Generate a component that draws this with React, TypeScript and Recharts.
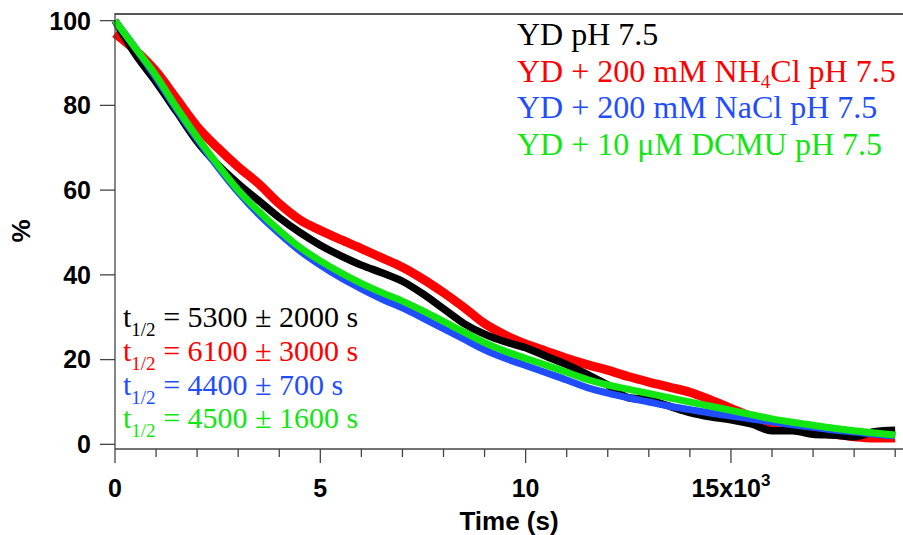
import { LineChart, Line, XAxis, YAxis, Label } from "recharts";

// time points (s)
const timeS = [
  0, 500, 1000, 1500, 2000, 2500, 3000, 3500, 4000, 4500, 5000, 5500, 6000, 6500, 7000, 7500, 8000,
  8500, 9000, 9500, 10000, 10500, 11000, 11500, 12000, 12500, 13000, 13500, 14000, 14500, 15000,
  15500, 16000, 16500, 17000, 17500, 18000, 18500, 19000,
];

// YD pH 7.5 (black)
const ydValues = [
  100, 92, 85.5, 78.5, 71.5, 66, 61.5, 57.5, 53.5, 50, 47, 44.5, 42.3, 40.5, 38.5, 35.5, 32, 28.5,
  26, 24.2, 22.8, 20.8, 18.8, 16.5, 14, 11, 10.5, 9, 7.5, 6.5, 5.8, 4.8, 3.2, 3.2, 2.4, 2.2, 1.8, 3,
  3.3,
];
// YD + 200 mM NH4Cl (red)
const nh4clValues = [
  97, 93, 88, 81.5, 75, 70, 65.5, 61.5, 56.8, 53, 50.5, 48.3, 46.2, 44, 41.8, 39, 35.8, 32.3, 28.5,
  25.8, 23.7, 22, 20.3, 18.8, 17.5, 16, 14.7, 13.5, 12.3, 10.5, 8.5, 6.5, 4.8, 3.8, 3, 2.4, 1.8, 1.5,
  1.5,
];
// YD + 200 mM NaCl (blue)
const naclValues = [
  100, 93.5, 86.5, 79, 72, 65.5, 59.5, 54.3, 49.8, 45.7, 42.3, 39.3, 36.7, 34.3, 32.2, 29.8, 27.3,
  24.8, 22.3, 20.3, 18.6, 16.9, 15.2, 13.4, 12.1, 11, 10, 9, 8.2, 7.4, 6.7, 6, 5.3, 4.6, 4, 3.4, 2.9,
  2.4, 2,
];
// YD + 10 uM DCMU (green)
const dcmuValues = [
  100, 93.5, 87, 79.5, 72.5, 66, 60, 55, 50.5, 46.5, 43.3, 40.5, 38, 35.8, 33.8, 31.5, 29, 26.5, 24,
  22, 20.3, 18.7, 17, 15.3, 14, 13, 12, 11, 10, 9, 8, 7, 6, 5.2, 4.5, 3.8, 3.2, 2.7, 2.2,
];

const xTicks = [
  0, 1000, 2000, 3000, 4000, 5000, 6000, 7000, 8000, 9000, 10000, 11000, 12000, 13000, 14000, 15000,
  16000, 17000, 18000, 19000,
];
const majorLabels: Record<number, string> = { 0: "0", 5000: "5", 10000: "10", 15000: "15x10" };
const yTicks = [0, 20, 40, 60, 80, 100];

const BLACK = "#000000";
const RED = "#ff0000";
const BLUE = "#1f4dff";
const GREEN = "#12e612";
const AXIS = "#444444";
const SANS = "'Liberation Sans', Arial, Helvetica, sans-serif";
const SERIF = "'Liberation Serif', 'Times New Roman', Times, serif";

const data = timeS.map((t, i) => ({
  t,
  yd: ydValues[i],
  nh4cl: nh4clValues[i],
  nacl: naclValues[i],
  dcmu: dcmuValues[i],
}));

function TimeTick(props: any) {
  const { x, y, payload } = props;
  const v = payload.value as number;
  const label = majorLabels[v];
  const major = label !== undefined;
  return (
    <g>
      <line x1={x} x2={x} y1={y} y2={y + (major ? 14 : 8)} stroke={AXIS} strokeWidth={1.3} />
      {major && (
        <text
          x={x}
          y={y + 48}
          textAnchor="middle"
          fontFamily={SANS}
          fontWeight="bold"
          fontSize={25}
          fill="#000"
        >
          {label}
          {v === 15000 && (
            <tspan dy={-11} fontSize={17}>
              3
            </tspan>
          )}
        </text>
      )}
    </g>
  );
}

const halfLives = [
  { text: " = 5300 ± 2000 s", color: BLACK },
  { text: " = 6100 ± 3000 s", color: RED },
  { text: " = 4400 ± 700 s", color: BLUE },
  { text: " = 4500 ± 1600 s", color: GREEN },
];

export default function App() {
  return (
    <div style={{ position: "relative", width: 903, height: 535, background: "#fff" }}>
      <style>{"body{margin:0}"}</style>
      <LineChart width={903} height={535} data={data} margin={{ top: 13, right: 0, bottom: 0, left: 0 }}>
        <XAxis
          dataKey="t"
          type="number"
          domain={[0, 19190]}
          ticks={xTicks}
          interval={0}
          height={86}
          tickSize={0}
          tickMargin={0}
          tickLine={false}
          tick={<TimeTick />}
          axisLine={{ stroke: AXIS, strokeWidth: 1.3 }}
        >
          <Label
            content={(p: any) => (
              <text
                x={p.viewBox.x + p.viewBox.width / 2}
                y={p.viewBox.y + 81}
                textAnchor="middle"
                fontFamily={SANS}
                fontWeight="bold"
                fontSize={26}
                fill="#000"
              >
                Time (s)
              </text>
            )}
          />
        </XAxis>
        <YAxis
          type="number"
          domain={[-1.1, 101.8]}
          allowDataOverflow
          ticks={yTicks}
          width={115}
          tickSize={15}
          tickMargin={9}
          tickLine={{ stroke: AXIS, strokeWidth: 1.3 }}
          axisLine={{ stroke: AXIS, strokeWidth: 1.3 }}
          tick={{ fontFamily: SANS, fontWeight: "bold", fontSize: 25, fill: "#000" }}
        >
          <Label
            content={(p: any) => {
              const cx = p.viewBox.x + 21;
              const cy = p.viewBox.y + p.viewBox.height / 2;
              return (
                <text
                  x={cx}
                  y={cy}
                  transform={`rotate(-90 ${cx} ${cy})`}
                  textAnchor="middle"
                  dominantBaseline="central"
                  fontFamily={SANS}
                  fontWeight="bold"
                  fontSize={26}
                  fill="#000"
                >
                  %
                </text>
              );
            }}
          />
        </YAxis>
        <Line dataKey="nh4cl" stroke={RED} strokeWidth={9} dot={false} type="monotone" isAnimationActive={false} />
        <Line dataKey="yd" stroke={BLACK} strokeWidth={7.5} dot={false} type="monotone" isAnimationActive={false} />
        <Line dataKey="nacl" stroke={BLUE} strokeWidth={7} dot={false} type="monotone" isAnimationActive={false} />
        <Line dataKey="dcmu" stroke={GREEN} strokeWidth={7} dot={false} type="monotone" isAnimationActive={false} />
      </LineChart>
      {/* top frame line of the plot box */}
      <div
        style={{
          position: "absolute",
          left: 115,
          top: 13,
          width: 788,
          height: 0,
          borderTop: "2px solid #555",
        }}
      />
      <svg
        width={903}
        height={535}
        style={{ position: "absolute", left: 0, top: 0, pointerEvents: "none" }}
      >
        <g fontFamily={SERIF} fontSize={32}>
          <text x={517} y={45} fill={BLACK}>YD pH 7.5</text>
          <text x={517} y={82} fill={RED}>
            {"YD + 200 mM NH"}
            <tspan fontSize={19} dy={6}>4</tspan>
            <tspan dy={-6}>{"Cl pH 7.5"}</tspan>
          </text>
          <text x={517} y={118} fill={BLUE}>YD + 200 mM NaCl pH 7.5</text>
          <text x={517} y={155} fill={GREEN}>YD + 10 μM DCMU pH 7.5</text>
        </g>
        <g fontFamily={SERIF} fontSize={30}>
          {halfLives.map((h, i) => (
            <text key={i} x={123} y={327 + i * 33.8} fill={h.color}>
              t
              <tspan fontSize={19} dy={9}>1/2</tspan>
              <tspan dy={-9}>{h.text}</tspan>
            </text>
          ))}
        </g>
      </svg>
    </div>
  );
}
